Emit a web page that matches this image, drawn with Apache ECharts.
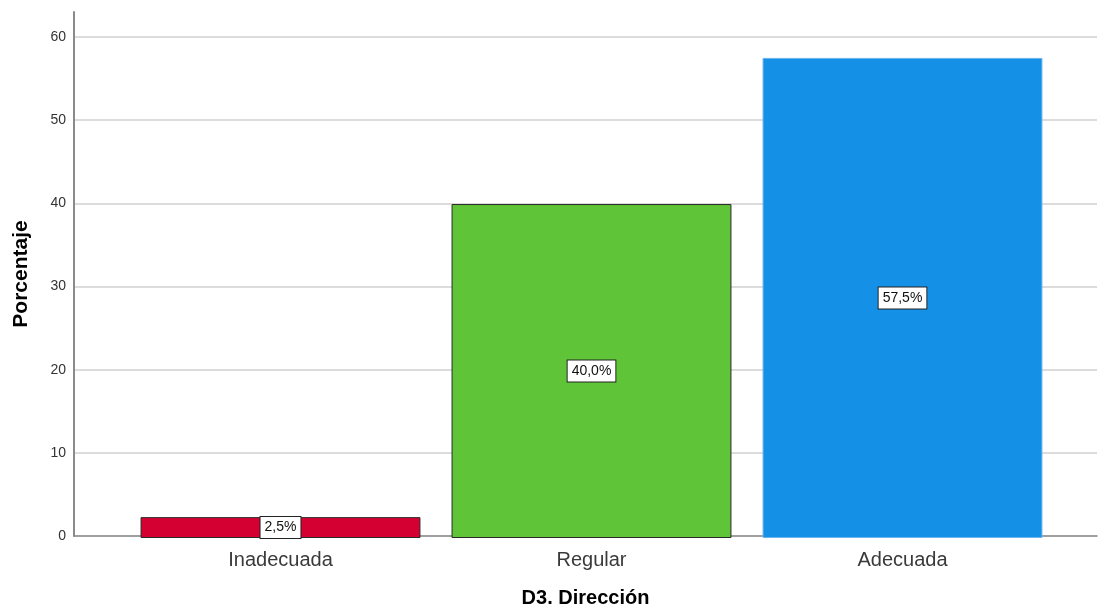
<!DOCTYPE html>
<html><head><meta charset="utf-8">
<script src="https://cdn.jsdelivr.net/npm/echarts@6/dist/echarts.min.js"></script>
<style>html,body{margin:0;padding:0;background:#fff}#c{width:1099px;height:613px}</style>
</head><body><div id="c"></div>
<script>
const categories = ['Inadecuada', 'Regular', 'Adecuada'];
const values = [2.5, 40.0, 57.5];
const labels = ['2,5%', '40,0%', '57,5%'];
const colors = ['#D50032', '#5FC437', '#1490E6'];
const borders = ['#2a2a2a', '#2a2a2a', '#6bb6f0'];
const yTicks = [0, 10, 20, 30, 40, 50, 60];
const yMax = 63;

const font = 'Liberation Sans, Arial, sans-serif';
const gridColors = yTicks.map(() => '#d0d0d0').concat(['rgba(0,0,0,0)']);

const chart = echarts.init(document.getElementById('c'), null, {renderer: 'canvas'});
chart.setOption({
  animation: false,
  grid: [
    {left: 74, right: 2, top: 12, bottom: 75},
    {left: 125, right: 41, top: 12, bottom: 75}
  ],
  xAxis: [
    {
      gridIndex: 0, type: 'value', min: 0, max: 1, show: true,
      name: 'D3. Dirección', nameLocation: 'middle', nameGap: 52,
      nameTextStyle: {fontFamily: font, fontSize: 20, fontWeight: 'bold', color: '#000'},
      axisLine: {show: true, lineStyle: {color: '#8a8a8a', width: 1.5}},
      axisTick: {show: false}, axisLabel: {show: false}, splitLine: {show: false}
    },
    {
      gridIndex: 1, type: 'category', data: categories,
      axisLine: {show: false}, axisTick: {show: false},
      axisLabel: {fontFamily: font, fontSize: 20, color: '#3a3a3a', margin: 12}
    }
  ],
  yAxis: [
    {
      gridIndex: 0, type: 'value', min: 0, max: yMax, interval: 10,
      name: 'Porcentaje', nameLocation: 'middle', nameGap: 42, nameRotate: 90,
      nameTextStyle: {fontFamily: font, fontSize: 21, fontWeight: 'bold', color: '#000'},
      axisLine: {show: true, lineStyle: {color: '#8a8a8a', width: 2}},
      axisTick: {show: false},
      axisLabel: {fontFamily: font, fontSize: 14, color: '#333', margin: 8,
        formatter: v => yTicks.includes(v) ? String(v) : ''},
      splitLine: {lineStyle: {color: gridColors, width: 1.5}}
    },
    {
      gridIndex: 1, type: 'value', min: 0, max: yMax, show: false
    }
  ],
  series: [{
    type: 'bar', xAxisIndex: 1, yAxisIndex: 1, barCategoryGap: '10%',
    data: values.map((v, i) => ({
      value: v,
      itemStyle: {color: colors[i], borderColor: borders[i], borderWidth: 1},
      label: {formatter: labels[i]}
    })),
    label: {
      show: true, position: 'inside',
      fontFamily: font, fontSize: 14, color: '#111',
      backgroundColor: '#fff', borderColor: '#222', borderWidth: 1, padding: [4, 4, 3, 4]
    }
  }]
});
</script></body></html>
